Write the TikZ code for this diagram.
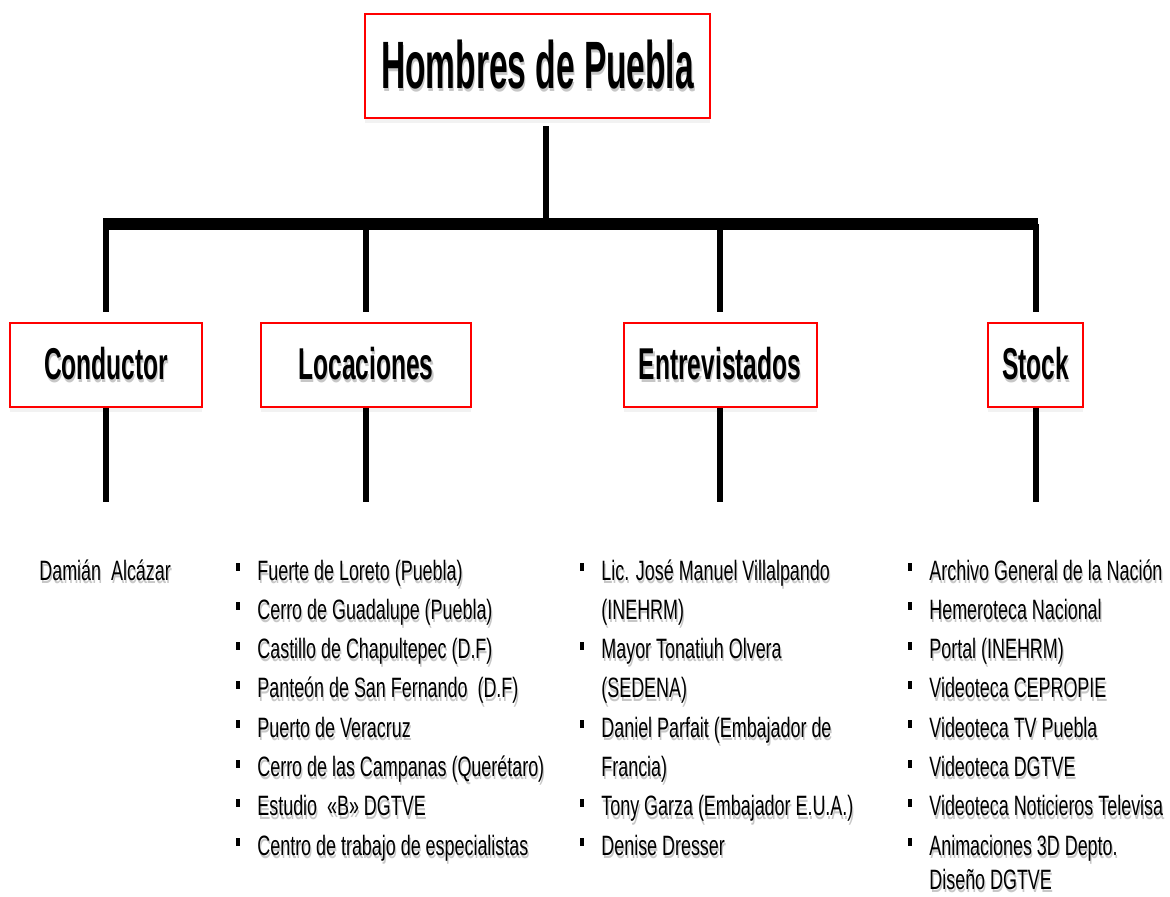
\documentclass[tikz,border=0pt]{standalone}
\usepackage{fontspec}
\setmainfont{Liberation Sans}
\newfontfamily\titlefont[FakeStretch=0.50]{Liberation Sans Bold}
\newfontfamily\subfont[FakeStretch=0.55]{Liberation Sans Bold}
\newfontfamily\itemfont[FakeStretch=0.64]{Liberation Sans}
\usetikzlibrary{shadows}
\newcommand\shtext[1]{\leavevmode\rlap{\kern0.6pt\raisebox{-1.6pt}{\textcolor{black!22}{#1}}}#1}
\tikzset{
  box/.style={draw=red, line width=1pt, fill=white, inner sep=0pt,
    drop shadow={opacity=0.10, shadow xshift=0pt, shadow yshift=-2.5pt}},
  conn/.style={line width=3pt, black},
  stemline/.style={line width=2.7pt, black},
  busline/.style={line width=6pt, black},
  itemtxt/.style={font={\itemfont\fontsize{14}{16}\selectfont}, anchor=base west, inner sep=0pt},
  headtxt/.style={font={\subfont\fontsize{22.3}{24}\selectfont}},
  bul/.style={fill=black},
}
\newcommand\bit[5]{\fill[bul] (#2,{#4-17}) rectangle ({#2+4},{#4-9});
  \node[itemtxt] (#1) at (#3,#4) {\shtext{#5}};}
\newcommand\cit[4]{\node[itemtxt] (#1) at (#2,#3) {\shtext{#4}};}
\begin{document}
\begin{tikzpicture}[x=0.5pt,y=-0.5pt]
\useasboundingbox (0,0) rectangle (1170,896);
\fill[white] (0,0) rectangle (1170,896);

% boxes
\node[box, minimum width=172.5pt, minimum height=52pt] (top) at (537.5,66)
  {\titlefont\fontsize{33.5}{36}\selectfont\shtext{Hombres de Puebla}};
\node[box, headtxt, minimum width=96pt, minimum height=42pt] (cond) at (106,365) {\shtext{Conductor}};
\node[box, headtxt, minimum width=105pt, minimum height=42pt] (loc) at (366,365) {\shtext{Locaciones}};
\node[box, headtxt, minimum width=96.5pt, minimum height=42pt] (ent) at (720,365) {\shtext{Entrevistados}};
\node[box, headtxt, minimum width=47.5pt, minimum height=42pt] (stk) at (1035.5,365) {\shtext{Stock}};

% connectors
\coordinate (busL) at (103,224);
\coordinate (busR) at (1038,224);
\coordinate (low) at (0,502);
\draw[stemline] ([xshift=4.25pt,yshift=-3.5pt]top.south) -- ([xshift=4.25pt]top.south |- busL);
\draw[busline] (busL) -- (busR);
\foreach \n in {cond,loc,ent,stk}{
  \draw[conn] (\n.north |- busL) -- ([yshift=5pt]\n.north);
  \draw[conn] (\n.south) -- (\n.south |- low);
}

% Conductor
\node[itemtxt] (dam) at (39,580) {\shtext{Damián\ \ Alcázar}};

% Locaciones
\bit{l1}{236}{257}{580}{Fuerte de Loreto (Puebla)}
\bit{l2}{236}{257}{619.3}{Cerro de Guadalupe (Puebla)}
\bit{l3}{236}{257}{658.6}{Castillo de Chapultepec (D.F)}
\bit{l4}{236}{257}{697.9}{Panteón de San Fernando\ \ (D.F)}
\bit{l5}{236}{257}{737.2}{Puerto de Veracruz}
\bit{l6}{236}{257}{776.5}{Cerro de las Campanas (Querétaro)}
\bit{l7}{236}{257}{815.8}{Estudio\ \ «B» DGTVE}
\bit{l8}{236}{257}{855.1}{Centro de trabajo de especialistas}

% Entrevistados
\bit{e1}{579.5}{601}{580}{Lic. José Manuel Villalpando}
\cit{e1b}{601}{619.3}{(INEHRM)}
\bit{e2}{579.5}{601}{658.6}{Mayor Tonatiuh Olvera}
\cit{e2b}{601}{697.9}{(SEDENA)}
\bit{e3}{579.5}{601}{737.2}{Daniel Parfait (Embajador de}
\cit{e3b}{601}{776.5}{Francia)}
\bit{e4}{579.5}{601}{815.8}{Tony Garza (Embajador E.U.A.)}
\bit{e5}{579.5}{601}{855.1}{Denise Dresser}

% Stock
\bit{s1}{908}{929}{580}{Archivo General de la Nación}
\bit{s2}{908}{929}{619.3}{Hemeroteca Nacional}
\bit{s3}{908}{929}{658.6}{Portal (INEHRM)}
\bit{s4}{908}{929}{697.9}{Videoteca CEPROPIE}
\bit{s5}{908}{929}{737.2}{Videoteca TV Puebla}
\bit{s6}{908}{929}{776.5}{Videoteca DGTVE}
\bit{s7}{908}{929}{815.8}{Videoteca Noticieros Televisa}
\bit{s8}{908}{929}{855.1}{Animaciones 3D Depto.}
\cit{s8b}{929}{889}{Diseño DGTVE}
\end{tikzpicture}
\end{document}
